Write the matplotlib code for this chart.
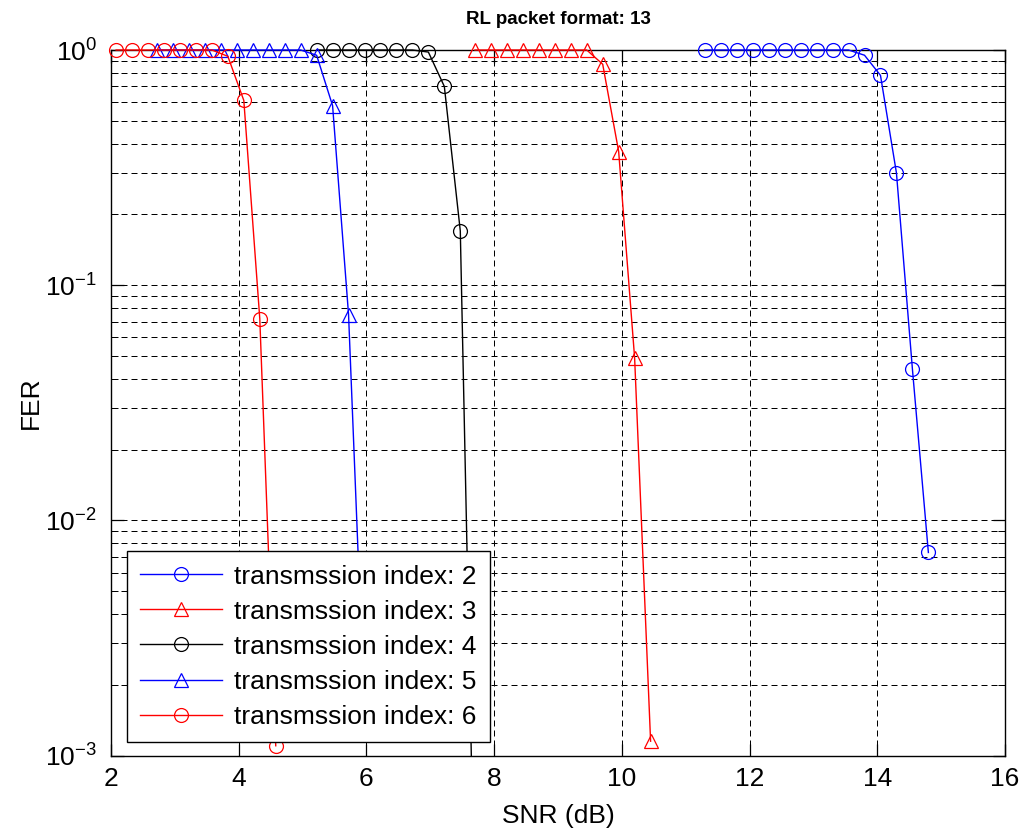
import matplotlib.pyplot as plt
from matplotlib.patches import Rectangle
from matplotlib.ticker import LogLocator, FixedLocator, NullFormatter

plt.rcParams['font.family'] = ['Liberation Sans', 'DejaVu Sans']
plt.rcParams['mathtext.fontset'] = 'custom'
plt.rcParams['mathtext.rm'] = 'Liberation Sans'
plt.rcParams['mathtext.it'] = 'Liberation Sans:italic'
plt.rcParams['mathtext.bf'] = 'Liberation Sans:bold'

# transmission index 2
snr_2 = [11.3, 11.55, 11.8, 12.05, 12.3, 12.55, 12.8, 13.05, 13.3, 13.55,
         13.8, 14.05, 14.3, 14.55, 14.8]
fer_2 = [1, 1, 1, 1, 1, 1, 1, 1, 1, 1, 0.95, 0.78, 0.30, 0.044, 0.0073]

# transmission index 3
snr_3 = [7.7, 7.95, 8.2, 8.45, 8.7, 8.95, 9.2, 9.45, 9.7, 9.95, 10.2, 10.45]
fer_3 = [1, 1, 1, 1, 1, 1, 1, 1, 0.87, 0.37, 0.049, 0.00115]

# transmission index 4
snr_4 = [5.22, 5.47, 5.72, 5.97, 6.22, 6.47, 6.72, 6.97, 7.22, 7.47, 7.72]
fer_4 = [1, 1, 1, 1, 1, 1, 1, 0.98, 0.70, 0.17, 0.0001]

# transmission index 5
snr_5 = [2.72, 2.97, 3.22, 3.47, 3.72, 3.97, 4.22, 4.47, 4.72, 4.97, 5.22,
         5.47, 5.72, 5.97]
fer_5 = [1, 1, 1, 1, 1, 1, 1, 1, 1, 1, 0.95, 0.58, 0.075, 0.0015]

# transmission index 6
snr_6 = [2.08, 2.33, 2.58, 2.83, 3.08, 3.33, 3.58, 3.83, 4.08, 4.33, 4.58]
fer_6 = [1, 1, 1, 1, 1, 1, 1, 0.94, 0.61, 0.072, 0.0011]

series = [
    (snr_2, fer_2, "blue", "o", "transmssion index: 2"),
    (snr_3, fer_3, "red", "^", "transmssion index: 3"),
    (snr_4, fer_4, "black", "o", "transmssion index: 4"),
    (snr_5, fer_5, "blue", "^", "transmssion index: 5"),
    (snr_6, fer_6, "red", "o", "transmssion index: 6"),
]

fig = plt.figure(figsize=(10.24, 8.35), dpi=100)
ax = fig.add_axes([111 / 1024, (835 - 755.5) / 835, 894 / 1024, 705.5 / 835])

# clip region: allow markers to hang over top/left edges, cut lines at the bottom
clip_rect = Rectangle((-0.03, 0.0), 1.06, 1.05, transform=ax.transAxes,
                      facecolor="none", edgecolor="none")

for x, y, color, marker, label in series:
    ms = 10 if marker == "o" else 10.5
    (line,) = ax.plot(x, y, color=color, marker=marker, markersize=ms,
                      markerfacecolor="none", markeredgecolor=color,
                      markeredgewidth=0.9, linewidth=1.0, label=label, zorder=3)
    line.set_clip_path(clip_rect)

ax.set_yscale("log")
ax.set_xlim(2, 16)
ax.set_ylim(1e-3, 1)
ax.xaxis.set_major_locator(FixedLocator([2, 4, 6, 8, 10, 12, 14, 16]))
ax.yaxis.set_major_locator(LogLocator(base=10, numticks=10))
ax.yaxis.set_minor_locator(LogLocator(base=10, subs=range(2, 10), numticks=20))
ax.yaxis.set_minor_formatter(NullFormatter())

grid_style = dict(color="black", linestyle=(0, (6, 4)), linewidth=0.72)
ax.grid(True, which="major", axis="both", **grid_style)
ax.grid(True, which="minor", axis="y", **grid_style)
ax.set_axisbelow(True)

ax.tick_params(axis="both", which="major", direction="in", length=9, width=0.9,
               top=True, right=True, labelsize=19, pad=8)
ax.tick_params(axis="y", which="major", pad=10)
ax.tick_params(axis="y", which="minor", direction="in", length=5, width=0.7,
               right=True)
for s in ax.spines.values():
    s.set_linewidth(1.0)

ax.set_xlabel("SNR (dB)", fontsize=19, labelpad=10)
ax.set_ylabel("FER", fontsize=19, labelpad=2)
ax.set_title("RL packet format: 13", fontsize=13.5, fontweight="bold", pad=19)

leg = ax.legend(loc="lower left", bbox_to_anchor=(0.018, 0.019), borderaxespad=0,
                fontsize=19, numpoints=1, fancybox=False, framealpha=1,
                edgecolor="black", handlelength=3.1, handletextpad=0.45,
                labelspacing=0.42, borderpad=0.5)
leg.get_frame().set_linewidth(1.0)
leg.set_zorder(5)

fig.savefig("out.png", dpi=100)
